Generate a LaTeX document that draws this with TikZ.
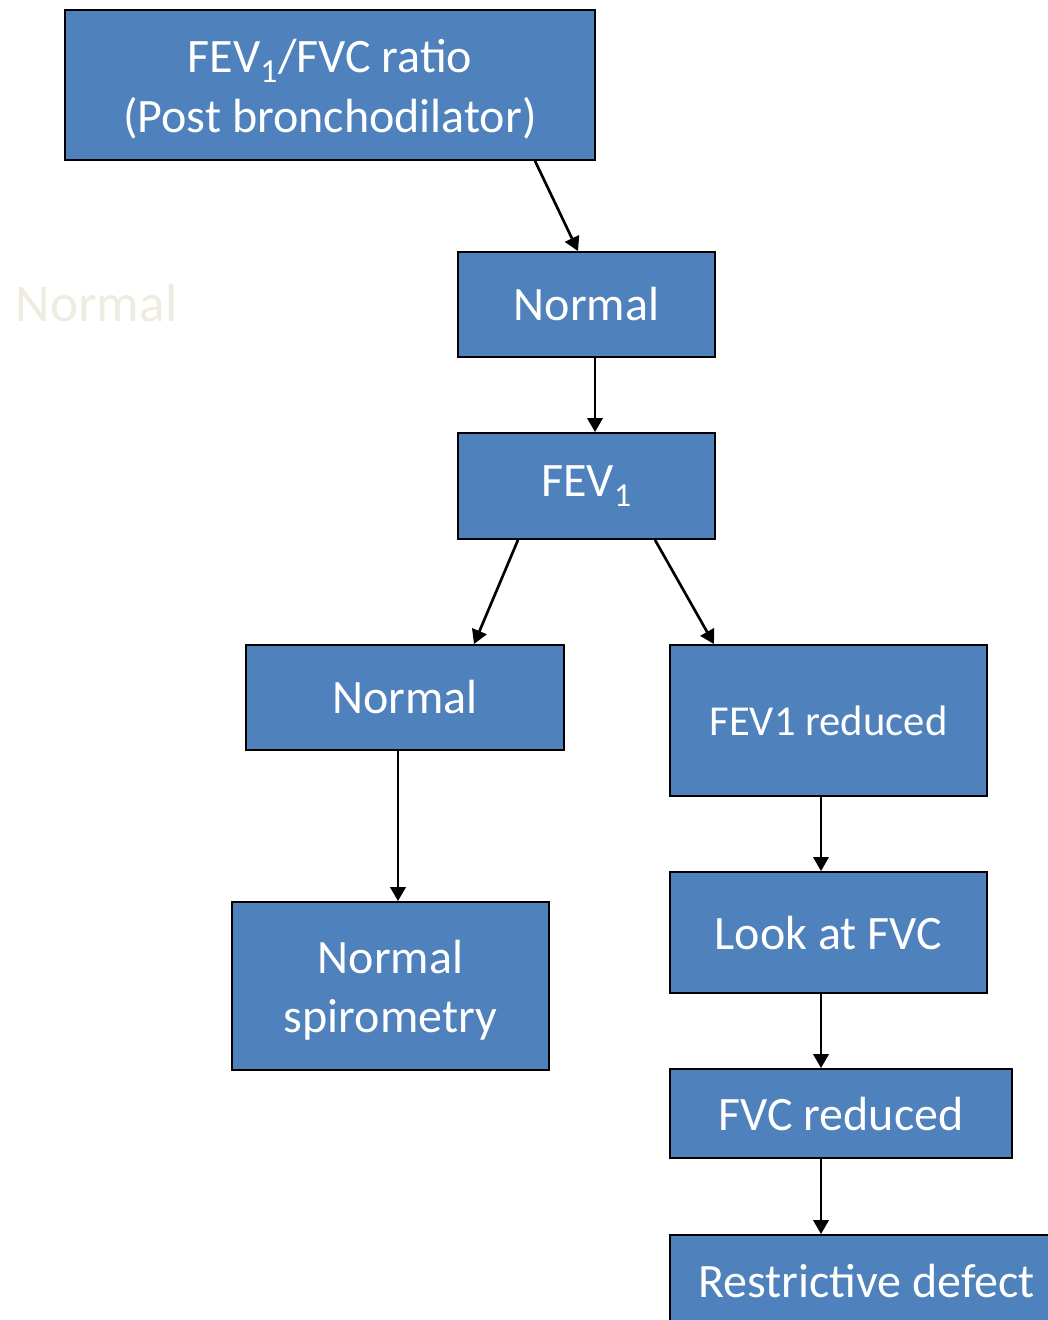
\documentclass[tikz,border=0pt]{standalone}
\usepackage{fontspec}
\setmainfont{Carlito}
\usetikzlibrary{arrows.meta,calc}
\definecolor{boxblue}{HTML}{4F81BD}
\definecolor{ghost}{HTML}{EEECE1}
\begin{document}
\begin{tikzpicture}[x=0.75pt,y=-0.75pt,
  boxfont/.style={font=\fontsize{36}{44.5}\selectfont},
  flowbox/.style 2 args={draw=black,line width=1.4pt,fill=boxblue,text=white,
    align=center,inner sep=0pt,minimum width=#1*0.75pt,minimum height=#2*0.75pt,
    boxfont},
  boxtext/.style={text=white,align=center,inner sep=0pt,boxfont},
  link/.style={line width=2pt,-{Triangle[length=10.5pt,width=11.5pt]}}]
\useasboundingbox (0,0) rectangle (1048,1320);

% faint background label
\node[text=ghost,font=\fontsize{40}{48}\selectfont,inner sep=0pt] (ghostlbl) at (96.5,303) {Normal};

% boxes
\node[flowbox={530}{150}] (top) at (330,85) {};
\node[boxtext] (toptext) at ($(top.center)+(0,4)$) {FEV\textsubscript{1}/FVC ratio\\(Post bronchodilator)};
\node[flowbox={257}{105}] (n1) at (586.5,304.5) {Normal};
\node[flowbox={257}{106}] (fev) at (586.5,486) {FEV\textsubscript{1}};
\node[flowbox={318}{105}] (n2) at (405,697.5) {Normal};
\node[flowbox={317}{151},font=\fontsize{32}{39}\selectfont] (red) at (828.5,720.5) {FEV1 reduced};
\node[flowbox={317}{168}] (spiro) at (390.5,986) {};
\node[boxtext] (spirotext) at ($(spiro.center)+(0,4)$) {Normal\\spirometry};
\node[flowbox={317}{121}] (look) at (828.5,932.5) {Look at FVC};
\node[flowbox={342}{89}] (fvcr) at (841,1113.5) {FVC reduced};
\node[flowbox={393}{92}] (restr) at (866.5,1281) {Restrictive defect};

% connectors
\draw[link] ($(top.south)+(205,0)$) -- ($(n1.north)+(-8.5,0)$);
\draw[link] ($(n1.south)+(8.5,0)$) -- ($(fev.north)+(8.5,0)$);
\draw[link] ($(fev.south)+(-68.5,0)$) -- ($(n2.north)+(69,0)$);
\draw[link] ($(fev.south)+(68.5,0)$) -- ($(red.north)+(-114.5,0)$);
\draw[link] ($(n2.south)+(-7,0)$) -- ($(spiro.north)+(7.5,0)$);
\draw[link] ($(red.south)+(-7.5,0)$) -- ($(look.north)+(-7.5,0)$);
\draw[link] ($(look.south)+(-7.5,0)$) -- ($(fvcr.north)+(-20,0)$);
\draw[link] ($(fvcr.south)+(-20,0)$) -- ($(restr.north)+(-45.5,0)$);
\end{tikzpicture}
\end{document}
